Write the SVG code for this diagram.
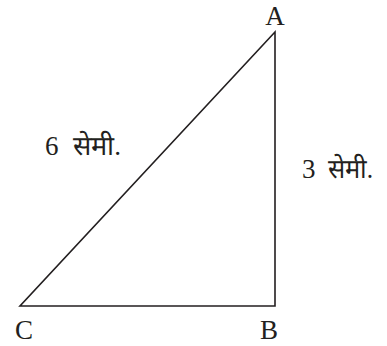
<svg xmlns="http://www.w3.org/2000/svg" width="387" height="346" viewBox="0 0 387 346">
<style>
text{fill:#231f20}
.edge{fill:none;stroke:#231f20;stroke-width:1.6;stroke-linejoin:miter}
</style>
<rect width="387" height="346" fill="#fff"/>
<g id="connectors">
<polygon class="edge" points="20,306 275,306 275,32"/>
</g>
<g id="A"><text font-family="Liberation Serif" font-size="27" x="275" y="25" text-anchor="middle">A</text></g>
<g id="B"><text font-family="Liberation Serif" font-size="27" x="269" y="339" text-anchor="middle">B</text></g>
<g id="C"><text font-family="Liberation Serif" font-size="27" x="24" y="339" text-anchor="middle">C</text></g>
<g id="lblAC"><text font-family="Liberation Serif, serif" font-size="27" x="45" y="155">6 <tspan x="73" textLength="48" lengthAdjust="spacingAndGlyphs">सेमी.</tspan></text></g>
<g id="lblAB"><text font-family="Liberation Serif, serif" font-size="27" x="302" y="178">3 <tspan x="328" textLength="45" lengthAdjust="spacingAndGlyphs">सेमी.</tspan></text></g>
</svg>
